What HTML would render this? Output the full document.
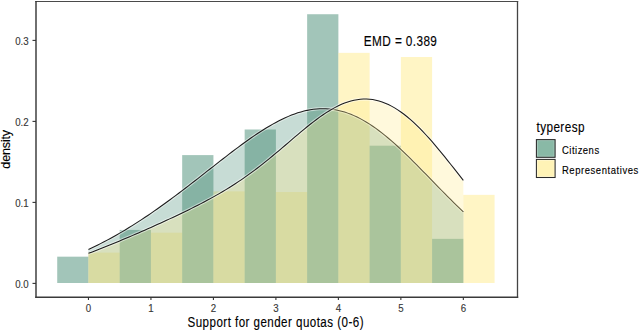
<!DOCTYPE html>
<html><head><meta charset="utf-8"><style>
html,body{margin:0;padding:0;background:#fff;overflow:hidden;}
svg{display:block;}
text{font-family:"Liberation Sans",sans-serif;}
.at{font-size:10.1px;fill:#363636;stroke:#363636;stroke-width:0.12px;}
</style></head><body>
<svg width="640" height="331" viewBox="0 0 640 331">
<rect width="640" height="331" fill="#fff"/>
<rect x="57.22" y="256.67" width="31.24" height="26.33" fill="#458B74" fill-opacity="0.5"/>
<rect x="88.46" y="252.62" width="31.24" height="30.38" fill="#FFEC8B" fill-opacity="0.5"/>
<rect x="119.70" y="229.94" width="31.24" height="53.06" fill="#458B74" fill-opacity="0.5"/>
<rect x="150.94" y="232.69" width="31.24" height="50.31" fill="#FFEC8B" fill-opacity="0.5"/>
<rect x="182.18" y="155.10" width="31.24" height="127.90" fill="#458B74" fill-opacity="0.5"/>
<rect x="213.42" y="191.38" width="31.24" height="91.62" fill="#FFEC8B" fill-opacity="0.5"/>
<rect x="244.66" y="129.50" width="31.24" height="153.50" fill="#458B74" fill-opacity="0.5"/>
<rect x="275.90" y="192.03" width="31.24" height="90.97" fill="#FFEC8B" fill-opacity="0.5"/>
<rect x="307.14" y="14.24" width="31.24" height="268.76" fill="#458B74" fill-opacity="0.5"/>
<rect x="338.38" y="52.87" width="31.24" height="230.13" fill="#FFEC8B" fill-opacity="0.5"/>
<rect x="369.62" y="145.70" width="31.24" height="137.30" fill="#458B74" fill-opacity="0.5"/>
<rect x="400.86" y="57.00" width="31.24" height="226.00" fill="#FFEC8B" fill-opacity="0.5"/>
<rect x="432.10" y="238.85" width="31.24" height="44.15" fill="#458B74" fill-opacity="0.5"/>
<rect x="463.34" y="194.87" width="31.24" height="88.13" fill="#FFEC8B" fill-opacity="0.5"/>
<polygon points="88.46,283.00 88.46,249.43 91.58,247.97 94.71,246.47 97.83,244.94 100.96,243.37 104.08,241.76 107.20,240.11 110.33,238.43 113.45,236.71 116.58,234.95 119.70,233.16 122.82,231.33 125.95,229.46 129.07,227.56 132.20,225.63 135.32,223.66 138.44,221.65 141.57,219.62 144.69,217.55 147.82,215.45 150.94,213.32 154.06,211.16 157.19,208.97 160.31,206.76 163.44,204.52 166.56,202.25 169.68,199.97 172.81,197.65 175.93,195.32 179.06,192.97 182.18,190.60 185.30,188.21 188.43,185.81 191.55,183.40 194.68,180.97 197.80,178.54 200.92,176.10 204.05,173.65 207.17,171.20 210.30,168.75 213.42,166.30 216.54,163.85 219.67,161.41 222.79,158.98 225.92,156.56 229.04,154.16 232.16,151.78 235.29,149.41 238.41,147.08 241.54,144.77 244.66,142.49 247.78,140.25 250.91,138.05 254.03,135.90 257.16,133.79 260.28,131.74 263.40,129.74 266.53,127.81 269.65,125.94 272.78,124.14 275.90,122.42 279.02,120.78 282.15,119.22 285.27,117.75 288.40,116.38 291.52,115.10 294.64,113.93 297.77,112.87 300.89,111.91 304.02,111.08 307.14,110.36 310.26,109.77 313.39,109.30 316.51,108.96 319.64,108.76 322.76,108.68 325.88,108.75 329.01,108.95 332.13,109.30 335.26,109.78 338.38,110.40 341.50,111.17 344.63,112.07 347.75,113.12 350.88,114.30 354.00,115.62 357.12,117.07 360.25,118.65 363.37,120.37 366.50,122.21 369.62,124.17 372.74,126.24 375.87,128.44 378.99,130.73 382.12,133.14 385.24,135.63 388.36,138.23 391.49,140.90 394.61,143.66 397.74,146.49 400.86,149.39 403.98,152.35 407.11,155.36 410.23,158.42 413.36,161.53 416.48,164.66 419.60,167.83 422.73,171.02 425.85,174.22 428.98,177.43 432.10,180.65 435.22,183.86 438.35,187.06 441.47,190.25 444.60,193.42 447.72,196.57 450.84,199.68 453.97,202.77 457.09,205.81 460.22,208.81 463.34,211.77 463.34,283.00" fill="#458B74" fill-opacity="0.3" stroke="none"/>
<polyline points="88.46,249.43 91.58,247.97 94.71,246.47 97.83,244.94 100.96,243.37 104.08,241.76 107.20,240.11 110.33,238.43 113.45,236.71 116.58,234.95 119.70,233.16 122.82,231.33 125.95,229.46 129.07,227.56 132.20,225.63 135.32,223.66 138.44,221.65 141.57,219.62 144.69,217.55 147.82,215.45 150.94,213.32 154.06,211.16 157.19,208.97 160.31,206.76 163.44,204.52 166.56,202.25 169.68,199.97 172.81,197.65 175.93,195.32 179.06,192.97 182.18,190.60 185.30,188.21 188.43,185.81 191.55,183.40 194.68,180.97 197.80,178.54 200.92,176.10 204.05,173.65 207.17,171.20 210.30,168.75 213.42,166.30 216.54,163.85 219.67,161.41 222.79,158.98 225.92,156.56 229.04,154.16 232.16,151.78 235.29,149.41 238.41,147.08 241.54,144.77 244.66,142.49 247.78,140.25 250.91,138.05 254.03,135.90 257.16,133.79 260.28,131.74 263.40,129.74 266.53,127.81 269.65,125.94 272.78,124.14 275.90,122.42 279.02,120.78 282.15,119.22 285.27,117.75 288.40,116.38 291.52,115.10 294.64,113.93 297.77,112.87 300.89,111.91 304.02,111.08 307.14,110.36 310.26,109.77 313.39,109.30 316.51,108.96 319.64,108.76 322.76,108.68 325.88,108.75 329.01,108.95 332.13,109.30 335.26,109.78 338.38,110.40 341.50,111.17 344.63,112.07 347.75,113.12 350.88,114.30 354.00,115.62 357.12,117.07 360.25,118.65 363.37,120.37 366.50,122.21 369.62,124.17 372.74,126.24 375.87,128.44 378.99,130.73 382.12,133.14 385.24,135.63 388.36,138.23 391.49,140.90 394.61,143.66 397.74,146.49 400.86,149.39 403.98,152.35 407.11,155.36 410.23,158.42 413.36,161.53 416.48,164.66 419.60,167.83 422.73,171.02 425.85,174.22 428.98,177.43 432.10,180.65 435.22,183.86 438.35,187.06 441.47,190.25 444.60,193.42 447.72,196.57 450.84,199.68 453.97,202.77 457.09,205.81 460.22,208.81 463.34,211.77" fill="none" stroke="#fff" stroke-opacity="0.5" stroke-width="3.2"/>
<polyline points="88.46,249.43 91.58,247.97 94.71,246.47 97.83,244.94 100.96,243.37 104.08,241.76 107.20,240.11 110.33,238.43 113.45,236.71 116.58,234.95 119.70,233.16 122.82,231.33 125.95,229.46 129.07,227.56 132.20,225.63 135.32,223.66 138.44,221.65 141.57,219.62 144.69,217.55 147.82,215.45 150.94,213.32 154.06,211.16 157.19,208.97 160.31,206.76 163.44,204.52 166.56,202.25 169.68,199.97 172.81,197.65 175.93,195.32 179.06,192.97 182.18,190.60 185.30,188.21 188.43,185.81 191.55,183.40 194.68,180.97 197.80,178.54 200.92,176.10 204.05,173.65 207.17,171.20 210.30,168.75 213.42,166.30 216.54,163.85 219.67,161.41 222.79,158.98 225.92,156.56 229.04,154.16 232.16,151.78 235.29,149.41 238.41,147.08 241.54,144.77 244.66,142.49 247.78,140.25 250.91,138.05 254.03,135.90 257.16,133.79 260.28,131.74 263.40,129.74 266.53,127.81 269.65,125.94 272.78,124.14 275.90,122.42 279.02,120.78 282.15,119.22 285.27,117.75 288.40,116.38 291.52,115.10 294.64,113.93 297.77,112.87 300.89,111.91 304.02,111.08 307.14,110.36 310.26,109.77 313.39,109.30 316.51,108.96 319.64,108.76 322.76,108.68 325.88,108.75 329.01,108.95 332.13,109.30 335.26,109.78 338.38,110.40 341.50,111.17 344.63,112.07 347.75,113.12 350.88,114.30 354.00,115.62 357.12,117.07 360.25,118.65 363.37,120.37 366.50,122.21 369.62,124.17 372.74,126.24 375.87,128.44 378.99,130.73 382.12,133.14 385.24,135.63 388.36,138.23 391.49,140.90 394.61,143.66 397.74,146.49 400.86,149.39 403.98,152.35 407.11,155.36 410.23,158.42 413.36,161.53 416.48,164.66 419.60,167.83 422.73,171.02 425.85,174.22 428.98,177.43 432.10,180.65 435.22,183.86 438.35,187.06 441.47,190.25 444.60,193.42 447.72,196.57 450.84,199.68 453.97,202.77 457.09,205.81 460.22,208.81 463.34,211.77" fill="none" stroke="#1c1c1c" stroke-width="1.05"/>
<polygon points="88.46,283.00 88.46,253.32 91.58,252.14 94.71,250.94 97.83,249.73 100.96,248.51 104.08,247.27 107.20,246.02 110.33,244.76 113.45,243.49 116.58,242.20 119.70,240.90 122.82,239.60 125.95,238.28 129.07,236.95 132.20,235.61 135.32,234.27 138.44,232.91 141.57,231.55 144.69,230.18 147.82,228.80 150.94,227.41 154.06,226.01 157.19,224.60 160.31,223.18 163.44,221.76 166.56,220.32 169.68,218.88 172.81,217.42 175.93,215.95 179.06,214.47 182.18,212.98 185.30,211.46 188.43,209.94 191.55,208.39 194.68,206.83 197.80,205.24 200.92,203.63 204.05,201.99 207.17,200.33 210.30,198.64 213.42,196.91 216.54,195.15 219.67,193.35 222.79,191.52 225.92,189.64 229.04,187.72 232.16,185.75 235.29,183.74 238.41,181.68 241.54,179.57 244.66,177.40 247.78,175.19 250.91,172.93 254.03,170.62 257.16,168.26 260.28,165.85 263.40,163.39 266.53,160.90 269.65,158.36 272.78,155.78 275.90,153.18 279.02,150.55 282.15,147.90 285.27,145.23 288.40,142.55 291.52,139.88 294.64,137.21 297.77,134.56 300.89,131.93 304.02,129.33 307.14,126.78 310.26,124.28 313.39,121.85 316.51,119.48 319.64,117.20 322.76,115.01 325.88,112.92 329.01,110.94 332.13,109.09 335.26,107.36 338.38,105.78 341.50,104.34 344.63,103.06 347.75,101.95 350.88,101.00 354.00,100.23 357.12,99.65 360.25,99.25 363.37,99.04 366.50,99.03 369.62,99.22 372.74,99.60 375.87,100.19 378.99,100.98 382.12,101.96 385.24,103.15 388.36,104.53 391.49,106.11 394.61,107.88 397.74,109.83 400.86,111.97 403.98,114.28 407.11,116.76 410.23,119.40 413.36,122.19 416.48,125.13 419.60,128.21 422.73,131.42 425.85,134.74 428.98,138.18 432.10,141.72 435.22,145.34 438.35,149.05 441.47,152.83 444.60,156.66 447.72,160.55 450.84,164.47 453.97,168.42 457.09,172.39 460.22,176.36 463.34,180.34 463.34,283.00" fill="#FFEC8B" fill-opacity="0.3" stroke="none"/>
<polyline points="88.46,253.32 91.58,252.14 94.71,250.94 97.83,249.73 100.96,248.51 104.08,247.27 107.20,246.02 110.33,244.76 113.45,243.49 116.58,242.20 119.70,240.90 122.82,239.60 125.95,238.28 129.07,236.95 132.20,235.61 135.32,234.27 138.44,232.91 141.57,231.55 144.69,230.18 147.82,228.80 150.94,227.41 154.06,226.01 157.19,224.60 160.31,223.18 163.44,221.76 166.56,220.32 169.68,218.88 172.81,217.42 175.93,215.95 179.06,214.47 182.18,212.98 185.30,211.46 188.43,209.94 191.55,208.39 194.68,206.83 197.80,205.24 200.92,203.63 204.05,201.99 207.17,200.33 210.30,198.64 213.42,196.91 216.54,195.15 219.67,193.35 222.79,191.52 225.92,189.64 229.04,187.72 232.16,185.75 235.29,183.74 238.41,181.68 241.54,179.57 244.66,177.40 247.78,175.19 250.91,172.93 254.03,170.62 257.16,168.26 260.28,165.85 263.40,163.39 266.53,160.90 269.65,158.36 272.78,155.78 275.90,153.18 279.02,150.55 282.15,147.90 285.27,145.23 288.40,142.55 291.52,139.88 294.64,137.21 297.77,134.56 300.89,131.93 304.02,129.33 307.14,126.78 310.26,124.28 313.39,121.85 316.51,119.48 319.64,117.20 322.76,115.01 325.88,112.92 329.01,110.94 332.13,109.09 335.26,107.36 338.38,105.78 341.50,104.34 344.63,103.06 347.75,101.95 350.88,101.00 354.00,100.23 357.12,99.65 360.25,99.25 363.37,99.04 366.50,99.03 369.62,99.22 372.74,99.60 375.87,100.19 378.99,100.98 382.12,101.96 385.24,103.15 388.36,104.53 391.49,106.11 394.61,107.88 397.74,109.83 400.86,111.97 403.98,114.28 407.11,116.76 410.23,119.40 413.36,122.19 416.48,125.13 419.60,128.21 422.73,131.42 425.85,134.74 428.98,138.18 432.10,141.72 435.22,145.34 438.35,149.05 441.47,152.83 444.60,156.66 447.72,160.55 450.84,164.47 453.97,168.42 457.09,172.39 460.22,176.36 463.34,180.34" fill="none" stroke="#fff" stroke-opacity="0.5" stroke-width="3.2"/>
<polyline points="88.46,253.32 91.58,252.14 94.71,250.94 97.83,249.73 100.96,248.51 104.08,247.27 107.20,246.02 110.33,244.76 113.45,243.49 116.58,242.20 119.70,240.90 122.82,239.60 125.95,238.28 129.07,236.95 132.20,235.61 135.32,234.27 138.44,232.91 141.57,231.55 144.69,230.18 147.82,228.80 150.94,227.41 154.06,226.01 157.19,224.60 160.31,223.18 163.44,221.76 166.56,220.32 169.68,218.88 172.81,217.42 175.93,215.95 179.06,214.47 182.18,212.98 185.30,211.46 188.43,209.94 191.55,208.39 194.68,206.83 197.80,205.24 200.92,203.63 204.05,201.99 207.17,200.33 210.30,198.64 213.42,196.91 216.54,195.15 219.67,193.35 222.79,191.52 225.92,189.64 229.04,187.72 232.16,185.75 235.29,183.74 238.41,181.68 241.54,179.57 244.66,177.40 247.78,175.19 250.91,172.93 254.03,170.62 257.16,168.26 260.28,165.85 263.40,163.39 266.53,160.90 269.65,158.36 272.78,155.78 275.90,153.18 279.02,150.55 282.15,147.90 285.27,145.23 288.40,142.55 291.52,139.88 294.64,137.21 297.77,134.56 300.89,131.93 304.02,129.33 307.14,126.78 310.26,124.28 313.39,121.85 316.51,119.48 319.64,117.20 322.76,115.01 325.88,112.92 329.01,110.94 332.13,109.09 335.26,107.36 338.38,105.78 341.50,104.34 344.63,103.06 347.75,101.95 350.88,101.00 354.00,100.23 357.12,99.65 360.25,99.25 363.37,99.04 366.50,99.03 369.62,99.22 372.74,99.60 375.87,100.19 378.99,100.98 382.12,101.96 385.24,103.15 388.36,104.53 391.49,106.11 394.61,107.88 397.74,109.83 400.86,111.97 403.98,114.28 407.11,116.76 410.23,119.40 413.36,122.19 416.48,125.13 419.60,128.21 422.73,131.42 425.85,134.74 428.98,138.18 432.10,141.72 435.22,145.34 438.35,149.05 441.47,152.83 444.60,156.66 447.72,160.55 450.84,164.47 453.97,168.42 457.09,172.39 460.22,176.36 463.34,180.34" fill="none" stroke="#1c1c1c" stroke-width="1.05"/>
<line x1="35.3" y1="1.5" x2="518.2" y2="1.5" stroke="#4a4a4a" stroke-width="1.1"/>
<line x1="36" y1="0.95" x2="36" y2="297.9" stroke="#333" stroke-width="1.4"/>
<line x1="517.5" y1="0.95" x2="517.5" y2="297.9" stroke="#444" stroke-width="1.3"/>
<line x1="35.3" y1="297.2" x2="518.2" y2="297.2" stroke="#3a3a3a" stroke-width="1.4"/>
<line x1="88.46" y1="297" x2="88.46" y2="300" stroke="#333" stroke-width="1.1"/>
<text transform="translate(88.46,312.0) scale(0.96,1)" text-anchor="middle" class="at">0</text>
<line x1="150.94" y1="297" x2="150.94" y2="300" stroke="#333" stroke-width="1.1"/>
<text transform="translate(150.94,312.0) scale(0.96,1)" text-anchor="middle" class="at">1</text>
<line x1="213.42" y1="297" x2="213.42" y2="300" stroke="#333" stroke-width="1.1"/>
<text transform="translate(213.42,312.0) scale(0.96,1)" text-anchor="middle" class="at">2</text>
<line x1="275.90" y1="297" x2="275.90" y2="300" stroke="#333" stroke-width="1.1"/>
<text transform="translate(275.90,312.0) scale(0.96,1)" text-anchor="middle" class="at">3</text>
<line x1="338.38" y1="297" x2="338.38" y2="300" stroke="#333" stroke-width="1.1"/>
<text transform="translate(338.38,312.0) scale(0.96,1)" text-anchor="middle" class="at">4</text>
<line x1="400.86" y1="297" x2="400.86" y2="300" stroke="#333" stroke-width="1.1"/>
<text transform="translate(400.86,312.0) scale(0.96,1)" text-anchor="middle" class="at">5</text>
<line x1="463.34" y1="297" x2="463.34" y2="300" stroke="#333" stroke-width="1.1"/>
<text transform="translate(463.34,312.0) scale(0.96,1)" text-anchor="middle" class="at">6</text>
<line x1="32.5" y1="283.40" x2="36" y2="283.40" stroke="#333" stroke-width="1.1"/>
<text transform="translate(28.6,287.80) scale(0.96,1)" text-anchor="end" class="at">0.0</text>
<line x1="32.5" y1="202.40" x2="36" y2="202.40" stroke="#333" stroke-width="1.1"/>
<text transform="translate(28.6,206.80) scale(0.96,1)" text-anchor="end" class="at">0.1</text>
<line x1="32.5" y1="121.40" x2="36" y2="121.40" stroke="#333" stroke-width="1.1"/>
<text transform="translate(28.6,125.80) scale(0.96,1)" text-anchor="end" class="at">0.2</text>
<line x1="32.5" y1="40.40" x2="36" y2="40.40" stroke="#333" stroke-width="1.1"/>
<text transform="translate(28.6,44.80) scale(0.96,1)" text-anchor="end" class="at">0.3</text>
<text transform="translate(187.54,327.00) scale(0.92,1.1)" style="font-size:12.6px;fill:#000;stroke:#000;stroke-width:0.12px" textLength="191.26" lengthAdjust="spacing">Support for gender quotas (0-6)</text>
<text transform="translate(363.87,46.12) scale(0.92,1.08)" style="font-size:12.8px;fill:#000;stroke:#000;stroke-width:0.12px" textLength="79.38" lengthAdjust="spacing">EMD = 0.389</text>
<text transform="translate(536.45,132.16) scale(0.92,1.08)" style="font-size:12.8px;fill:#000;stroke:#000;stroke-width:0.12px" textLength="52.23" lengthAdjust="spacing">typeresp</text>
<text transform="translate(562.02,154.00) scale(0.92,1)" style="font-size:10.3px;fill:#000;stroke:#000;stroke-width:0.12px" textLength="40.33" lengthAdjust="spacing">Citizens</text>
<text transform="translate(561.90,173.90) scale(0.92,1)" style="font-size:10.3px;fill:#000;stroke:#000;stroke-width:0.12px" textLength="83.04" lengthAdjust="spacing">Representatives</text>
<text transform="translate(10.07,149.29) rotate(-90)" text-anchor="middle" style="font-size:12.6px;fill:#000;stroke:#000;stroke-width:0.12px" textLength="38.85" lengthAdjust="spacing">density</text>
<rect x="536.4" y="139.6" width="18.7" height="17.7" fill="#89B9A6"/>
<rect x="537.4" y="140.6" width="16.7" height="15.7" fill="none" stroke="#fff" stroke-opacity="0.25" stroke-width="1"/>
<rect x="536.4" y="139.6" width="18.7" height="17.7" fill="none" stroke="#2a2a2a" stroke-width="1.05"/>
<rect x="536.4" y="159.4" width="18.7" height="18.1" fill="#FFF3B6"/>
<rect x="537.4" y="160.4" width="16.7" height="16.1" fill="none" stroke="#fff" stroke-opacity="0.3" stroke-width="1"/>
<rect x="536.4" y="159.4" width="18.7" height="18.1" fill="none" stroke="#2a2a2a" stroke-width="1.05"/>
</svg>
</body></html>
